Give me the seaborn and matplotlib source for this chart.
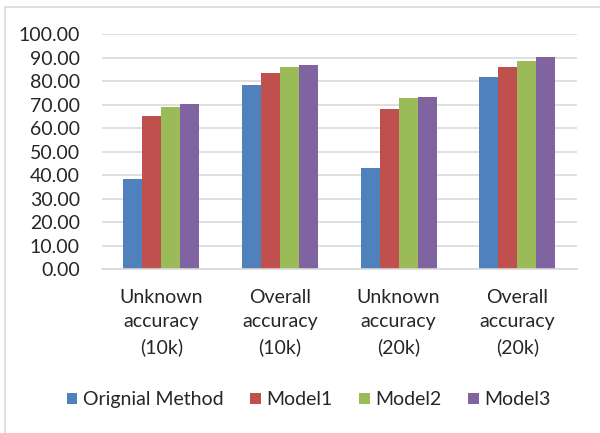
import numpy as np
import pandas as pd
import seaborn as sns
import matplotlib.pyplot as plt
from matplotlib.lines import Line2D

# Data
categories = ["Unknown\naccuracy\n(10k)", "Overall\naccuracy\n(10k)",
              "Unknown\naccuracy\n(20k)", "Overall\naccuracy\n(20k)"]
methods = ["Orignial Method", "Model1", "Model2", "Model3"]
orig_vals = [38.3, 78.2, 42.9, 82.0]
model1_vals = [65.4, 83.7, 68.3, 86.1]
model2_vals = [69.1, 86.0, 72.8, 88.8]
model3_vals = [70.3, 86.7, 73.5, 90.4]
palette = ["#4F81BD", "#C0504D", "#9BBB59", "#8064A2"]

rows = []
for m, vals in zip(methods, [orig_vals, model1_vals, model2_vals, model3_vals]):
    for c, v in zip(categories, vals):
        rows.append({"category": c, "method": m, "value": v})
df = pd.DataFrame(rows)

sns.set_theme(style="white")
plt.rcParams["font.family"] = ["Lato", "DejaVu Sans"]
FS = 14

fig = plt.figure(figsize=(6, 4.33), dpi=100)
ax = fig.add_axes([0.17, 0.378, 0.791, 0.543])

sns.barplot(data=df, x="category", y="value", hue="method", palette=palette,
            order=categories, hue_order=methods, width=0.64, saturation=1,
            edgecolor="none", ax=ax)

ax.set_ylim(0, 100)
ax.set_yticks(np.arange(0, 101, 10))
ax.set_yticklabels([f"{t:.2f}" for t in np.arange(0, 101, 10)], fontsize=FS)
ax.set_xlim(-0.5, 3.5)
ax.tick_params(axis="x", labelsize=FS, pad=14, length=0)
ax.tick_params(axis="y", length=0, pad=16)
for lab in ax.get_xticklabels():
    lab.set_linespacing(1.52)
ax.set_xlabel("")
ax.set_ylabel("")
ax.yaxis.grid(True, color="#D9D9D9", linewidth=1.2)
ax.set_axisbelow(True)
for s in ["left", "right", "top"]:
    ax.spines[s].set_visible(False)
ax.spines["bottom"].set_color("#D9D9D9")
ax.spines["bottom"].set_linewidth(1.2)

ax.legend(loc="center", bbox_to_anchor=(0.436, -0.555), ncol=4, frameon=False,
          fontsize=FS, handlelength=0.55, handleheight=0.55, handletextpad=0.3,
          columnspacing=1.35)

# chart border (left and top visible in the crop)
fig.add_artist(Line2D([5 / 600, 5 / 600], [0, 1 - 7 / 433], color="#D9D9D9",
                      linewidth=1.2, transform=fig.transFigure))
fig.add_artist(Line2D([5 / 600, 1], [1 - 7 / 433, 1 - 7 / 433], color="#D9D9D9",
                      linewidth=1.2, transform=fig.transFigure))

fig.savefig("out.png", dpi=100)
